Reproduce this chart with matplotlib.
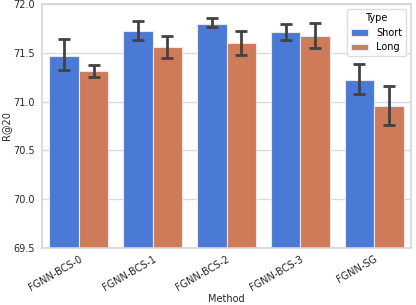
import matplotlib
matplotlib.use("Agg")
import matplotlib.pyplot as plt
import numpy as np

methods = ["FGNN-BCS-0", "FGNN-BCS-1", "FGNN-BCS-2", "FGNN-BCS-3", "FGNN-SG"]
types = ["Short", "Long"]
short_vals = [71.47, 71.72, 71.80, 71.71, 71.225]
short_lo = [71.32, 71.63, 71.76, 71.63, 71.08]
short_hi = [71.645, 71.83, 71.86, 71.795, 71.385]
long_vals = [71.31, 71.556, 71.60, 71.675, 70.955]
long_lo = [71.25, 71.45, 71.48, 71.55, 70.76]
long_hi = [71.375, 71.675, 71.72, 71.81, 71.16]
yticks = [69.5, 70.0, 70.5, 71.0, 71.5, 72.0]

colors = ["#4a79d6", "#cd7b58"]
fs = 7

fig = plt.figure(figsize=(4.16, 3.05), dpi=100)
ax = fig.add_axes([42/416, 1 - 248/305, (411-42)/416, (248-4)/305])
x = np.arange(len(methods))
w = 0.4
for i, (vals, lo, hi, lab) in enumerate([(short_vals, short_lo, short_hi, types[0]),
                                           (long_vals, long_lo, long_hi, types[1])]):
    pos = x - 0.2 + i * w
    ax.bar(pos, np.array(vals) - 69.5, bottom=69.5, width=w, color=colors[i],
           edgecolor="#e8e8f0", linewidth=0.8, label=lab, zorder=2)
    vals = np.array(vals)
    yerr = np.vstack([vals - np.array(lo), np.array(hi) - vals])
    ax.errorbar(pos, vals, yerr=yerr, fmt="none", ecolor="#424242",
                elinewidth=2.0, capsize=4, capthick=2.0, zorder=3)

ax.set_ylim(69.5, 72.0)
ax.set_xlim(-0.5, len(methods) - 0.5)
ax.set_yticks(yticks)
ax.set_yticklabels([f"{v:.1f}" for v in yticks], fontsize=fs, color="#262626")
ax.set_xticks(x)
ax.set_xticklabels(methods, rotation=30, ha="right", rotation_mode="anchor",
                   fontsize=fs, color="#262626")
ax.tick_params(axis="y", length=0, pad=5)
ax.tick_params(axis="x", length=0, pad=4)
ax.set_xlabel("Method", fontsize=fs, color="#262626", labelpad=1)
ax.set_ylabel("R@20", fontsize=fs, color="#262626", labelpad=2)
ax.yaxis.grid(True, color="#dadada", linewidth=1, zorder=0)
ax.set_axisbelow(True)
for s in ax.spines.values():
    s.set_color("#d5d5d5")
    s.set_linewidth(1.2)
leg = ax.legend(title="Type", fontsize=fs, title_fontsize=fs, loc="upper right",
                frameon=True, fancybox=True, handlelength=1.8)
leg.get_frame().set_edgecolor("#d5d5d5")
fig.savefig("out.png", dpi=100)
